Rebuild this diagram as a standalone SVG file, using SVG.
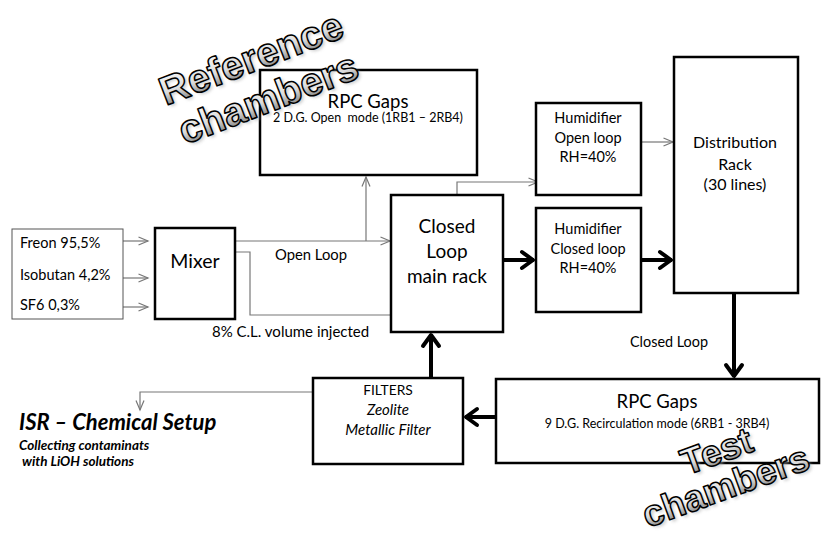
<svg xmlns="http://www.w3.org/2000/svg" width="827" height="537" viewBox="0 0 827 537">
<defs>
<style>
.box{fill:#fff;stroke:#000;stroke-width:2.5}
.src{fill:#fff;stroke:#555;stroke-width:1}
.t{font-family:Lato,"Open Sans","Liberation Sans",sans-serif;fill:#000}
.c{text-anchor:middle}
.thin{fill:none;stroke:#777;stroke-width:1.2}
.thick{fill:none;stroke:#000;stroke-width:4}
.wa{font-family:"Liberation Sans",Arial,sans-serif;font-weight:bold;fill:url(#g);stroke:#000;stroke-width:1.5;stroke-linejoin:round;text-anchor:middle}
.wash{font-family:"Liberation Sans",Arial,sans-serif;font-weight:bold;fill:#aaa;opacity:0.55;text-anchor:middle}
</style>
<linearGradient id="g" x1="0" y1="0" x2="0" y2="1">
<stop offset="0" stop-color="#ffffff"/>
<stop offset="0.55" stop-color="#dcdcdc"/>
<stop offset="1" stop-color="#606060"/>
</linearGradient>
<filter id="blur" x="-10%" y="-20%" width="120%" height="140%"><feGaussianBlur stdDeviation="1.5"/></filter>
<marker id="ah" markerUnits="userSpaceOnUse" viewBox="0 0 12 10" refX="10.5" refY="5" markerWidth="12" markerHeight="10" orient="auto">
<path d="M1,1 L10.5,5 L1,9" fill="none" stroke="#777" stroke-width="1.2"/>
</marker>
<marker id="AH" markerUnits="userSpaceOnUse" viewBox="0 0 18 22" refX="15" refY="11" markerWidth="18" markerHeight="22" orient="auto">
<path d="M3,3 L14,11 L3,19" fill="none" stroke="#000" stroke-width="4" stroke-linecap="round" stroke-linejoin="round"/>
</marker>
</defs>
<rect width="827" height="537" fill="#fff"/>

<g id="connectors">
<line class="thin" x1="123" y1="241" x2="148" y2="241" marker-end="url(#ah)"/>
<line class="thin" x1="123" y1="278" x2="148" y2="278" marker-end="url(#ah)"/>
<line class="thin" x1="123" y1="307" x2="148" y2="307" marker-end="url(#ah)"/>
<line class="thin" x1="235" y1="241" x2="390" y2="241" marker-end="url(#ah)"/>
<line class="thin" x1="366" y1="241" x2="366" y2="177" marker-end="url(#ah)"/>
<polyline class="thin" points="235,252 250,252 250,315 391,315"/>
<polyline class="thin" points="457,195 457,182 538,182" marker-end="url(#ah)"/>
<line class="thin" x1="641" y1="142" x2="673" y2="142" marker-end="url(#ah)"/>
<polyline class="thin" points="313,392 140,392 140,410" marker-end="url(#ah)"/>
<line class="thick" x1="503" y1="260" x2="534" y2="260" marker-end="url(#AH)"/>
<line class="thick" x1="641" y1="260" x2="672" y2="260" marker-end="url(#AH)"/>
<line class="thick" x1="734" y1="293" x2="734" y2="377" marker-end="url(#AH)"/>
<line class="thick" x1="496" y1="417" x2="465" y2="417" marker-end="url(#AH)"/>
<line class="thick" x1="431" y1="378" x2="431" y2="334" marker-end="url(#AH)"/>
</g>

<g id="sources">
<rect class="src" x="12" y="229" width="111" height="90"/>
<text class="t" x="20" y="248" font-size="14.5">Freon 95,5%</text>
<text class="t" x="20" y="280" font-size="14.5">Isobutan 4,2%</text>
<text class="t" x="20" y="310" font-size="14.5">SF6 0,3%</text>
</g>

<g id="mixer">
<rect class="box" x="155" y="228" width="80" height="91" stroke-width="2"/>
<text class="t c" x="195" y="268" font-size="19.5">Mixer</text>
</g>

<g id="rpc-ref">
<rect class="box" x="260" y="70" width="217" height="105"/>
<text class="t c" x="368" y="108" font-size="18.5">RPC Gaps</text>
<text class="t c" x="368" y="122" font-size="12.5" xml:space="preserve">2 D.G. Open  mode (1RB1 – 2RB4)</text>
</g>

<g id="main-rack">
<rect class="box" x="391" y="195" width="112" height="137"/>
<text class="t c" x="447" y="233" font-size="19">Closed</text>
<text class="t c" x="447" y="258" font-size="19">Loop</text>
<text class="t c" x="447" y="283" font-size="19">main rack</text>
</g>

<g id="hum-open">
<rect class="box" x="536" y="103" width="105" height="92"/>
<text class="t c" x="588" y="123" font-size="14.5">Humidifier</text>
<text class="t c" x="588" y="143" font-size="14.5">Open loop</text>
<text class="t c" x="588" y="162" font-size="14.5">RH=40%</text>
</g>

<g id="hum-closed">
<rect class="box" x="536" y="208" width="105" height="104"/>
<text class="t c" x="588" y="234" font-size="14.5">Humidifier</text>
<text class="t c" x="588" y="254" font-size="14.5">Closed loop</text>
<text class="t c" x="588" y="273" font-size="14.5">RH=40%</text>
</g>

<g id="distribution">
<rect class="box" x="674" y="57" width="124" height="236"/>
<text class="t c" x="735" y="148" font-size="16">Distribution</text>
<text class="t c" x="735" y="170" font-size="16">Rack</text>
<text class="t c" x="735" y="190" font-size="16">(30 lines)</text>
</g>

<g id="rpc-test">
<rect class="box" x="496" y="379" width="323" height="84"/>
<text class="t c" x="657" y="408" font-size="18.5">RPC Gaps</text>
<text class="t c" x="657" y="428" font-size="12.5">9 D.G. Recirculation mode (6RB1 - 3RB4)</text>
</g>

<g id="filters">
<rect class="box" x="313" y="378" width="150" height="86"/>
<text class="t c" x="388" y="395" font-size="13.8">FILTERS</text>
<text class="t c" x="388" y="415" font-size="15" font-style="italic">Zeolite</text>
<text class="t c" x="388" y="435" font-size="15" font-style="italic">Metallic Filter</text>
</g>

<g id="labels">
<text class="t" x="275" y="260" font-size="14.8">Open Loop</text>
<text class="t" x="212" y="337" font-size="15">8% C.L. volume injected</text>
<text class="t" x="630" y="347" font-size="14.4">Closed Loop</text>
</g>

<g id="isr">
<text class="t" x="19" y="430" font-size="22" font-weight="bold" font-style="italic">ISR – Chemical Setup</text>
<text class="t" x="19" y="450" font-size="13.5" font-weight="bold" font-style="italic">Collecting contaminats</text>
<text class="t" x="22" y="466" font-size="13.5" font-weight="bold" font-style="italic">with LiOH solutions</text>
</g>

<g id="wordart-reference">
<g transform="translate(256,71) rotate(-21)">
<text class="wash" x="2" y="3" font-size="40" filter="url(#blur)">Reference</text>
<text class="wa" x="0" y="0" font-size="40">Reference</text>
</g>
<g transform="translate(273,111) rotate(-21)">
<text class="wash" x="2" y="3" font-size="40" filter="url(#blur)">chambers</text>
<text class="wa" x="0" y="0" font-size="40">chambers</text>
</g>
</g>

<g id="wordart-test">
<g transform="translate(721,463) rotate(-20)">
<text class="wash" x="2" y="3" font-size="37" filter="url(#blur)">Test</text>
<text class="wa" x="0" y="0" font-size="37">Test</text>
</g>
<g transform="translate(730,498) rotate(-20)">
<text class="wash" x="2" y="3" font-size="37" filter="url(#blur)">chambers</text>
<text class="wa" x="0" y="0" font-size="37">chambers</text>
</g>
</g>
</svg>
